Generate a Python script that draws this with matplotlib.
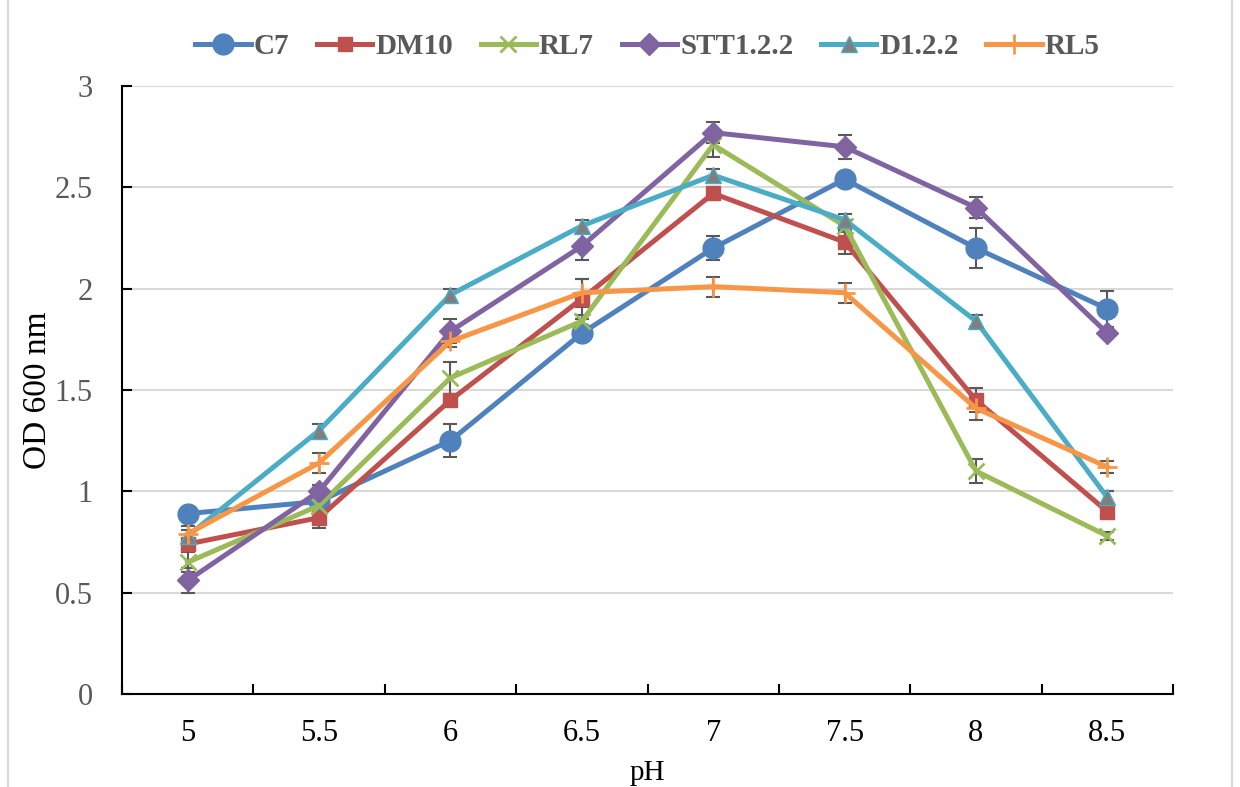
import matplotlib.pyplot as plt
import numpy as np
from matplotlib.lines import Line2D
from matplotlib.ticker import FixedLocator, NullFormatter

plt.rcParams['font.family'] = ['Liberation Serif', 'DejaVu Serif']

ph = ['5', '5.5', '6', '6.5', '7', '7.5', '8', '8.5']

c7 = [0.89, 0.95, 1.25, 1.78, 2.20, 2.54, 2.20, 1.90]
dm10 = [0.74, 0.87, 1.45, 1.95, 2.47, 2.23, 1.45, 0.90]
rl7 = [0.65, 0.93, 1.56, 1.84, 2.71, 2.31, 1.10, 0.78]
stt = [0.56, 1.00, 1.79, 2.21, 2.77, 2.70, 2.40, 1.78]
d122 = [0.78, 1.30, 1.97, 2.31, 2.56, 2.34, 1.84, 0.97]
rl5 = [0.79, 1.14, 1.74, 1.98, 2.01, 1.98, 1.41, 1.12]

# error bars (sd)
c7_err = [0.03, 0.03, 0.08, 0.03, 0.06, 0.03, 0.10, 0.09]
dm10_err = [0.03, 0.05, 0.03, 0.10, 0.03, 0.06, 0.06, 0.03]
rl7_err = [0.05, 0.03, 0.08, 0.03, 0.06, 0.03, 0.06, 0.02]
stt_err = [0.06, 0.03, 0.06, 0.07, 0.05, 0.06, 0.05, 0.02]
d122_err = [0.03, 0.03, 0.03, 0.03, 0.03, 0.03, 0.03, 0.03]
rl5_err = [0.04, 0.05, 0.03, 0.07, 0.05, 0.05, 0.06, 0.03]

series = [
    ('C7', c7, c7_err, '#4F81BD', 'o', 15, '#4F81BD'),
    ('DM10', dm10, dm10_err, '#C0504D', 's', 10, '#C0504D'),
    ('RL7', rl7, rl7_err, '#9BBB59', 'x', 11, '#9BBB59'),
    ('STT1.2.2', stt, stt_err, '#8064A2', 'D', 11, '#8064A2'),
    ('D1.2.2', d122, d122_err, '#4BACC6', '^', 12, '#7F7F7F'),
    ('RL5', rl5, rl5_err, '#F79646', '+', 15, '#F79646'),
]

fig = plt.figure(figsize=(12.4, 7.87), dpi=100)
ax = fig.add_axes([0.0984, 0.1182, 0.8476, 0.7725])
# light frame of the chart area (left / right edges)
for xf in (8 / 1240, 1232 / 1240):
    fig.add_artist(Line2D([xf, xf], [0, 1], transform=fig.transFigure, color='#D9D9D9', lw=1.5))

x = np.arange(len(ph))
for name, vals, err, col, mk, ms, mfc in series:
    ax.errorbar(x, vals, yerr=err, fmt='none', ecolor='#595959', elinewidth=1.5,
                capsize=5, capthick=1.5, zorder=2)
    kw = dict(markerfacecolor=mfc, markeredgecolor=mfc)
    if mk in ('x', '+'):
        kw['markeredgewidth'] = 2
    if mk == '^':
        kw['markeredgecolor'] = '#4BACC6'
        kw['markeredgewidth'] = 1
    ax.plot(x, vals, color=col, lw=3.6, marker=mk, markersize=ms, label=name, zorder=3, **kw)

ax.set_xlim(-0.5, len(ph) - 0.5)
ax.set_ylim(0, 3)
ax.set_yticks(np.arange(0, 3.01, 0.5))
ax.set_yticklabels(['0', '0.5', '1', '1.5', '2', '2.5', '3'])
ax.yaxis.grid(True, color='#D9D9D9', lw=1.5)
ax.set_axisbelow(True)

ax.set_xticks(x)
ax.set_xticklabels(ph)
ax.xaxis.set_minor_locator(FixedLocator(np.arange(-0.5, len(ph), 1.0)))
ax.xaxis.set_minor_formatter(NullFormatter())
ax.tick_params(axis='x', which='major', length=0, pad=18, labelsize=22, labelcolor='#000000')
ax.tick_params(axis='x', which='minor', length=7, width=1.5, direction='in')
ax.tick_params(axis='y', length=7, width=1.5, direction='in', pad=21, labelsize=22,
               labelcolor='#595959')

for s in ['top', 'right']:
    ax.spines[s].set_visible(False)
for s in ['left', 'bottom']:
    ax.spines[s].set_color('black')
    ax.spines[s].set_linewidth(1.5)

ax.set_ylabel('OD 600 nm', fontsize=24, labelpad=1)
ax.set_xlabel('pH', fontsize=21, labelpad=9)

leg = ax.legend(loc='lower center', bbox_to_anchor=(0.5, 1.0), ncol=6, frameon=False,
                prop={'weight': 'bold', 'size': 21}, handlelength=1.9, columnspacing=0.95,
                handletextpad=0.1)
for t in leg.get_texts():
    t.set_color('#595959')

plt.savefig('out.png', dpi=100)
